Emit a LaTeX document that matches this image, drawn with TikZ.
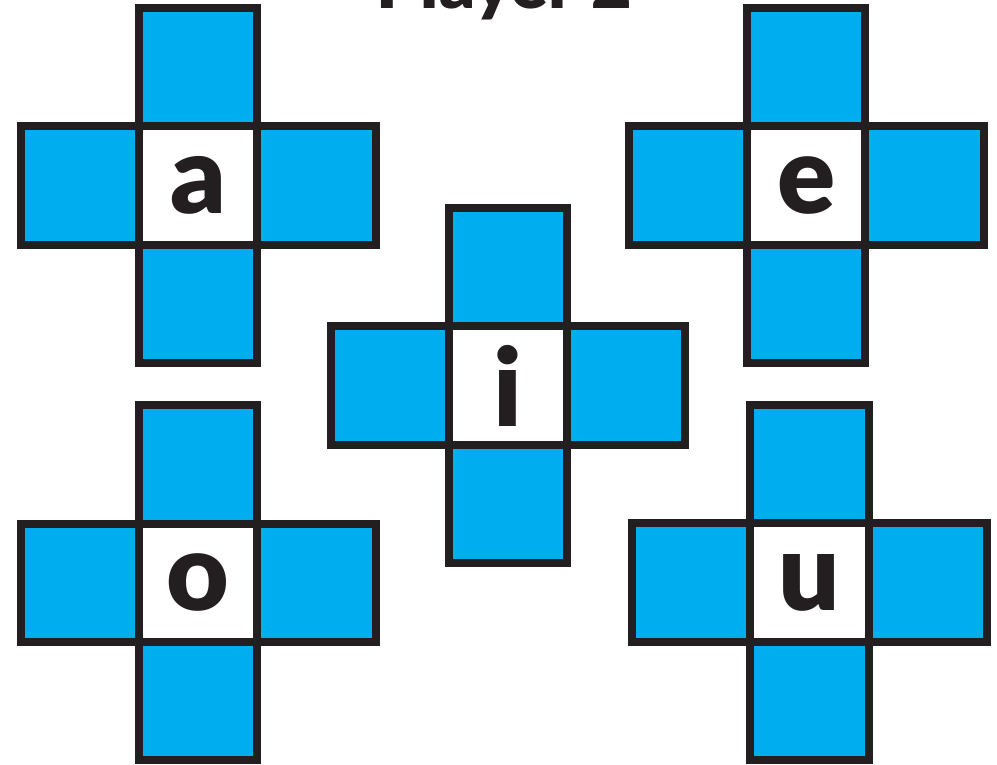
\documentclass[tikz,border=0pt]{standalone}
\usepackage{fontspec}
\newfontfamily\letterfont{Lato Black}
\definecolor{cellblue}{HTML}{00AEEF}
\definecolor{inkblack}{HTML}{231F20}
\tikzset{
  cellbox/.style={rectangle, draw=inkblack, line width=8pt, minimum size=118.3pt, inner sep=0pt, outer sep=0pt},
  bluecell/.style={cellbox, fill=cellblue},
  centercell/.style={cellbox, fill=white, font=\letterfont\fontsize{108}{108}\selectfont, text=inkblack},
  titletext/.style={font=\letterfont\fontsize{70}{70}\selectfont, text=inkblack, inner sep=0pt}
}
\newcommand\vowelcross[4]{%
  \node[bluecell] (#1n) at (#2,#3-118.3) {};
  \node[bluecell] (#1s) at (#2,#3+118.3) {};
  \node[bluecell] (#1w) at (#2-118.3,#3) {};
  \node[bluecell] (#1e) at (#2+118.3,#3) {};
  \node[centercell] (#1c) at (#2,#3) {#4};
}
\begin{document}
\begin{tikzpicture}[x=1pt,y=-1pt]
\useasboundingbox (0,0) rectangle (997,764);
\clip (0,0) rectangle (997,764);
\node[titletext, anchor=base] (title) at (504,8) {Player 2};
\vowelcross{a}{198.3}{185.4}{a}
\vowelcross{e}{806.3}{185.4}{e}
\vowelcross{i}{508}{385.6}{i}
\vowelcross{o}{198.3}{582.7}{o}
\vowelcross{u}{809.5}{582.5}{u}
\end{tikzpicture}
\end{document}
